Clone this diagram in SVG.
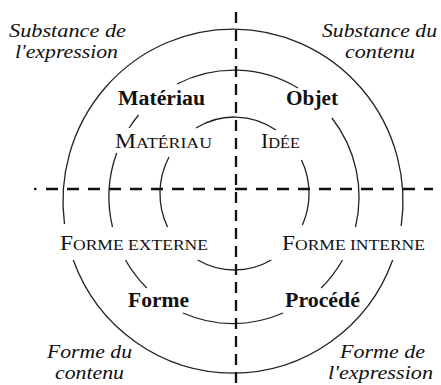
<svg xmlns="http://www.w3.org/2000/svg" width="441" height="385" viewBox="0 0 441 385">
<style>
.ring{fill:none;stroke:#222;stroke-width:1.3}
.axis{fill:none;stroke:#111;stroke-width:2.3}
text{font-family:"Liberation Serif","DejaVu Serif","Times New Roman",serif;fill:#111}
.it{font-style:italic;font-size:19px}
.bd{font-weight:bold;font-size:20px}
.sc{font-size:20px}
.sm{font-size:15px}
</style>
<rect width="441" height="385" fill="#fff"/>
<g id="rings">
<path class="ring" d="M64.5,224 A170,172 0 1 1 401.2,226"/>
<path class="ring" d="M73.3,260 A170,172 0 0 0 392.7,260"/>
<path class="ring" d="M177,84 A125,127 0 0 1 298,88"/>
<path class="ring" d="M138.6,115 A125,127 0 0 0 129.1,128"/>
<path class="ring" d="M116.7,153 A125,127 0 0 0 112.5,227"/>
<path class="ring" d="M125.5,260 A125,127 0 0 0 146.8,288"/>
<path class="ring" d="M183,313 A125,127 0 0 0 283,313"/>
<path class="ring" d="M321.2,288 A125,127 0 0 0 342.5,260"/>
<path class="ring" d="M355.5,227 A125,127 0 0 0 331.9,118"/>
<path class="ring" d="M196,128 A74.5,76.5 0 0 1 276,130"/>
<path class="ring" d="M169,157 A74.5,76.5 0 0 0 167.5,227"/>
<path class="ring" d="M301.5,160 A74.5,76.5 0 0 1 302.4,225"/>
<path class="ring" d="M197.7,260 A74.5,76.5 0 0 0 271.3,260"/>
</g>
<g id="axes">
<line class="axis" x1="236" y1="12" x2="236" y2="385" stroke-dasharray="11 7"/>
<line class="axis" x1="34" y1="189" x2="36.5" y2="189"/>
<line class="axis" x1="46" y1="189" x2="433" y2="189" stroke-dasharray="12 9"/>
</g>
<g id="substance-expression"><text class="it" x="9" y="37" textLength="117" lengthAdjust="spacingAndGlyphs">Substance de</text><text class="it" x="15" y="58" textLength="103" lengthAdjust="spacingAndGlyphs">l'expression</text></g>
<g id="substance-contenu"><text class="it" x="322" y="37" textLength="115" lengthAdjust="spacingAndGlyphs">Substance du</text><text class="it" x="345" y="58" textLength="70" lengthAdjust="spacingAndGlyphs">contenu</text></g>
<g id="forme-contenu"><text class="it" x="47" y="358" textLength="85" lengthAdjust="spacingAndGlyphs">Forme du</text><text class="it" x="55" y="379" textLength="69" lengthAdjust="spacingAndGlyphs">contenu</text></g>
<g id="forme-expression"><text class="it" x="340" y="358" textLength="85" lengthAdjust="spacingAndGlyphs">Forme de</text><text class="it" x="328" y="379" textLength="105" lengthAdjust="spacingAndGlyphs">l'expression</text></g>
<g id="materiau-bold"><text class="bd" x="118" y="105" textLength="87" lengthAdjust="spacingAndGlyphs">Matériau</text></g>
<g id="objet"><text class="bd" x="286" y="105" textLength="52" lengthAdjust="spacingAndGlyphs">Objet</text></g>
<g id="forme"><text class="bd" x="128" y="307" textLength="61" lengthAdjust="spacingAndGlyphs">Forme</text></g>
<g id="procede"><text class="bd" x="285" y="307" textLength="75" lengthAdjust="spacingAndGlyphs">Procédé</text></g>
<g id="materiau-sc"><text class="sc" x="115" y="148" textLength="97" lengthAdjust="spacingAndGlyphs">M<tspan class="sm">ATÉRIAU</tspan></text></g>
<g id="idee"><text class="sc" x="261" y="148" textLength="39" lengthAdjust="spacingAndGlyphs">I<tspan class="sm">DÉE</tspan></text></g>
<g id="forme-externe"><text class="sc" x="60" y="250" textLength="148" lengthAdjust="spacingAndGlyphs">F<tspan class="sm">ORME EXTERNE</tspan></text></g>
<g id="forme-interne"><text class="sc" x="282" y="250" textLength="143" lengthAdjust="spacingAndGlyphs">F<tspan class="sm">ORME INTERNE</tspan></text></g>
</svg>
